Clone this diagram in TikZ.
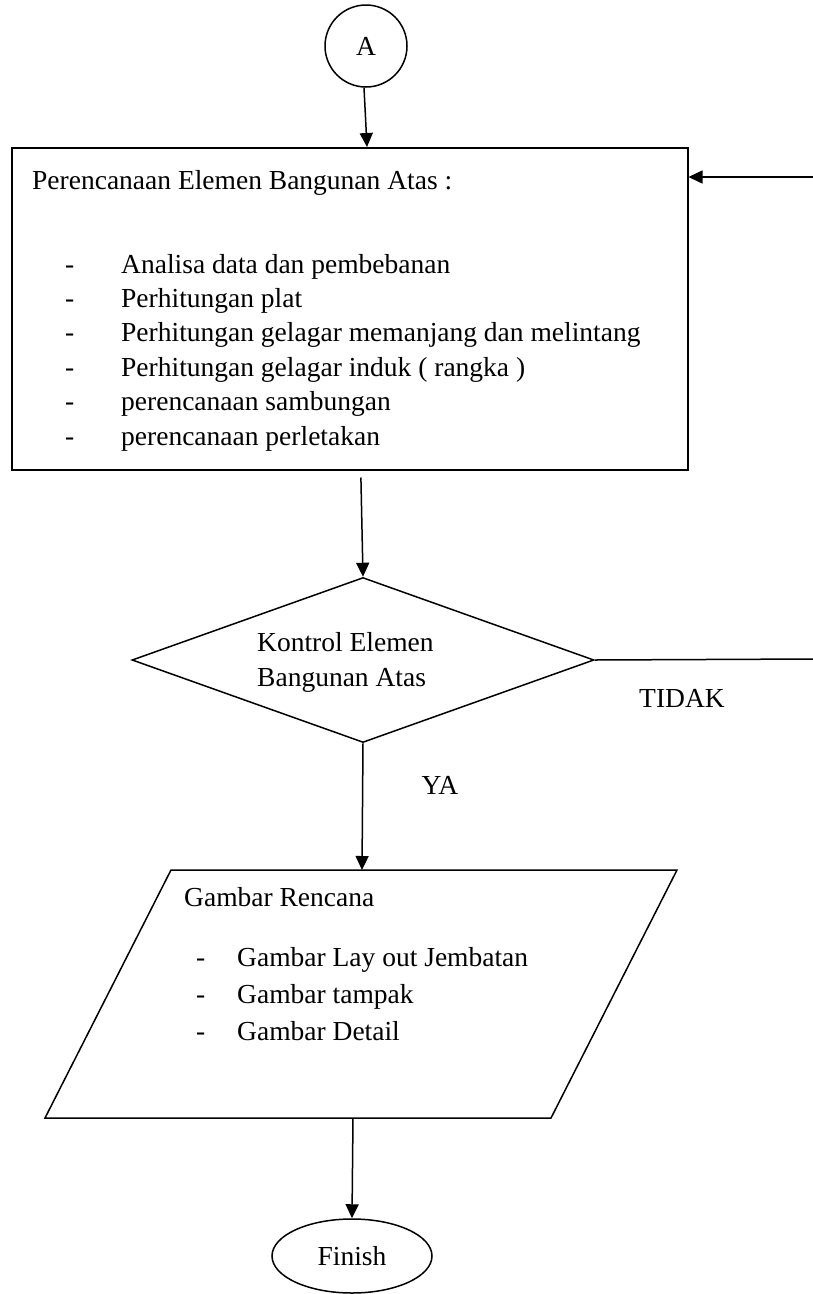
\documentclass[tikz,border=0pt]{standalone}
\usepackage{fontspec}
\setmainfont{Liberation Serif}
\usetikzlibrary{arrows.meta,shapes.geometric}
\begin{document}
\begin{tikzpicture}[x=1pt,y=-1pt,
  every node/.style={font=\fontsize{27.5}{34.5}\selectfont},
  shp/.style={draw,line width=1.5pt,inner sep=0pt},
  conn/.style={line width=1.5pt},
  arr/.style={conn,-{Triangle[length=14pt,width=13pt]}},
  txt/.style={anchor=base west,inner sep=0pt}]
\useasboundingbox (0,0) rectangle (813,1294);
% start circle
\node[shp,circle,minimum size=82pt] (A) at (366,46) {A};
% main box
\node[shp,rectangle,anchor=north west,minimum width=676pt,minimum height=322pt] (box) at (11,147) {};
\node[txt] (t0) at (32,189) {Perencanaan Elemen Bangunan Atas :};
\foreach \i/\s in {0/Analisa data dan pembebanan,1/Perhitungan plat,2/Perhitungan gelagar memanjang dan melintang,3/Perhitungan gelagar induk ( rangka ),4/perencanaan sambungan,5/perencanaan perletakan}{
  \node[txt] (d\i) at (65,273+34.4*\i) {-};
  \node[txt] (i\i) at (121,273+34.4*\i) {\s};
}
% decision
\node[shp,diamond,minimum width=462pt,minimum height=165pt] (dia) at (363,660) {};
\node[txt] (k1) at (257,651) {Kontrol Elemen};
\node[txt] (k2) at (257,686) {Bangunan Atas};
% output parallelogram
\coordinate (p1) at (45,1118);
\coordinate (p2) at (171,870);
\coordinate (p3) at (677,870);
\coordinate (p4) at (551,1118);
\draw[line width=1.5pt,line join=miter] (p1) -- (p2) -- (p3) -- (p4) -- cycle;
\coordinate (ptop) at (362,870);
\coordinate (pbot) at (353,1118);
\node[txt] (g0) at (184,906) {Gambar Rencana};
\foreach \i/\s in {0/Gambar Lay out Jembatan,1/Gambar tampak,2/Gambar Detail}{
  \node[txt] (gd\i) at (196,966+37*\i) {-};
  \node[txt] (gi\i) at (237,966+37*\i) {\s};
}
% finish
\node[shp,ellipse,minimum width=160pt,minimum height=74pt] (fin) at (352,1256) {Finish};
% connectors
\draw[arr] ([xshift=-2pt]A.south) -- ([xshift=1pt]A.south |- box.north);
\coordinate (r1) at (813,177);
\draw[arr] (r1) -- (box.east |- r1);
\draw[arr,shorten <=7pt] ([xshift=11pt]box.south) -- (dia.north);
\coordinate (r2) at (813,659);
\draw[conn] (dia.east) -- (r2);
\node (tidak) at (682,698) {TIDAK};
\draw[arr] (dia.south) -- (ptop);
\node (ya) at (440,785) {YA};
\draw[arr] (pbot) -- (fin.north);
\end{tikzpicture}
\end{document}
